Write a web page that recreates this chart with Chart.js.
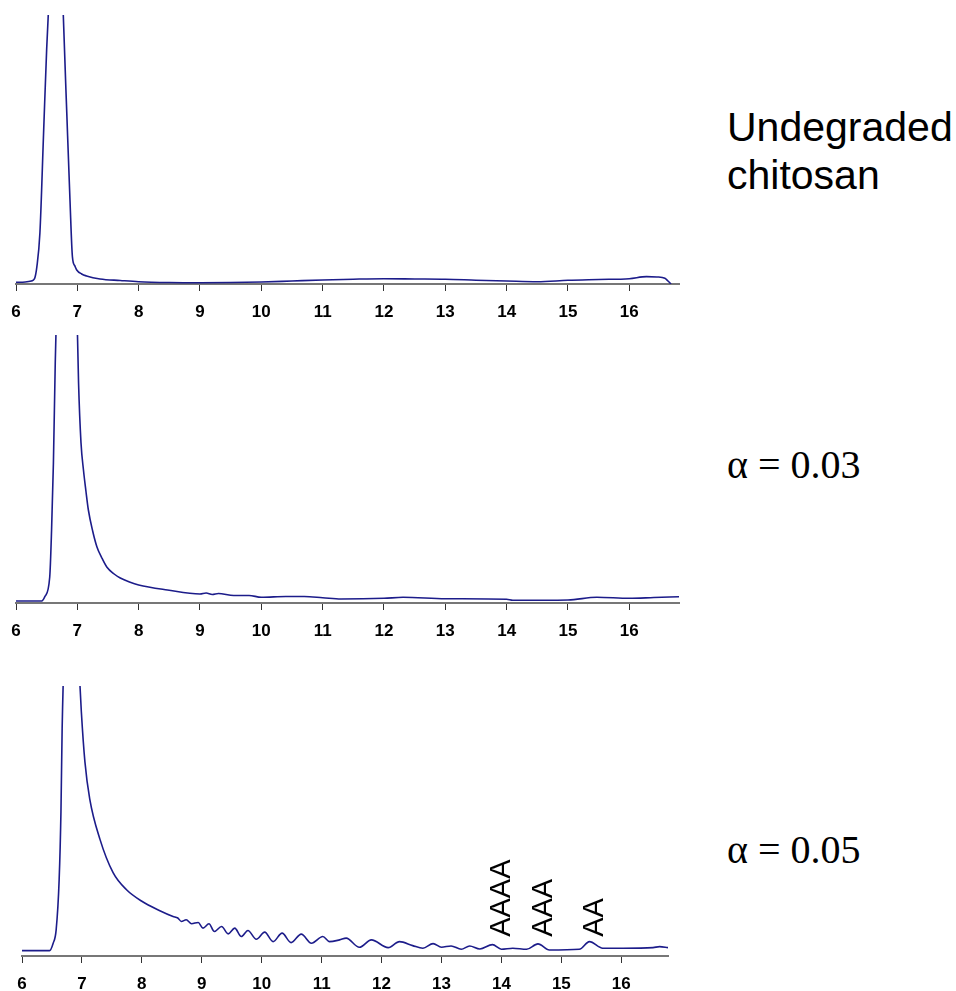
<!DOCTYPE html>
<html>
<head>
<meta charset="utf-8">
<script src="https://cdn.jsdelivr.net/npm/chart.js@4"></script>
<style>
  body { margin: 0; background: #fff; width: 956px; height: 991px; overflow: hidden; position: relative; }
  canvas { position: absolute; left: 0; }
  .side { position: absolute; left: 727px; color: #000; white-space: nowrap; }
  .sans { font-family: "Liberation Sans", Arial, sans-serif; font-size: 41px; line-height: 48px; }
  .serif { font-family: "Liberation Serif", "Times New Roman", serif; font-size: 40px; }
</style>
</head>
<body>
<canvas id="chart_undeg" style="top:0px"></canvas>
<canvas id="chart_a003" style="top:320px"></canvas>
<canvas id="chart_a005" style="top:671px"></canvas>

<div class="side sans" style="top:103px">Undegraded<br>chitosan</div>
<div class="side serif" style="top:441px">α = 0.03</div>
<div class="side serif" style="top:826px">α = 0.05</div>

<script>
// elution time (min) / detector response (arb. units)

// undegraded chitosan
let time_undeg = [6.0, 6.15, 6.25, 6.3, 6.34, 6.39, 6.45, 6.5, 6.55, 6.6, 6.66, 6.72, 6.77, 6.83, 6.88, 6.92, 6.96, 6.99, 7.07, 7.15, 7.37, 7.7, 8.0, 8.5, 9.0, 9.5, 10.0, 10.5, 11.0, 11.5, 12.0, 12.5, 13.0, 13.5, 14.0, 14.5, 15.0, 15.5, 16.0, 16.28, 16.45, 16.58, 16.63, 16.68]
let resp_undeg = [1.7, 2, 3, 5, 17, 51, 151, 234, 300, 390, 430, 380, 270, 167, 84, 27, 18, 14, 10, 8, 5, 3.5, 2.3, 1.5, 1.3, 1.5, 2, 3, 4, 4.8, 5.3, 5, 4.7, 3.8, 3, 2.3, 3.7, 4.5, 5.3, 7.3, 7, 5.7, 3, 0]

// alpha = 0.03
let time_a003 = [6.0, 6.2, 6.42, 6.47, 6.55, 6.58, 6.61, 6.64, 6.66, 6.72, 6.82, 6.92, 6.98, 7.02, 7.06, 7.1, 7.14, 7.18, 7.25, 7.32, 7.4, 7.48, 7.6, 7.7, 7.85, 8.0, 8.47, 9.0, 9.1, 9.2, 9.3, 9.55, 9.8, 10.0, 10.4, 10.7, 11.0, 11.3, 12.0, 12.31, 13.0, 14.0, 14.1, 15.0, 15.47, 16.0, 16.4, 16.81]
let resp_a003 = [2, 2, 2, 6.3, 26, 73, 140, 240, 290, 420, 520, 440, 330, 220, 160, 133, 112, 93, 72, 56, 45, 36, 29, 25, 21, 18, 13, 9, 10, 8.5, 9.5, 7.5, 7.5, 5.7, 6.5, 6.5, 5.3, 4, 4.7, 5.7, 4.3, 3.7, 2.7, 3, 5.7, 4.7, 5.5, 6.3]

// alpha = 0.05
let time_a005 = [6.0, 6.3, 6.46, 6.52, 6.57, 6.62, 6.65, 6.67, 6.72, 6.8, 6.88, 6.94, 6.99, 7.05, 7.13, 7.3, 7.52, 7.74, 8.0, 8.3, 8.52, 8.6, 8.66, 8.74, 8.83, 8.94, 9.02, 9.12, 9.21, 9.33, 9.44, 9.55, 9.66, 9.77, 9.91, 10.05, 10.19, 10.34, 10.49, 10.66, 10.83, 11.02, 11.13, 11.3, 11.41, 11.63, 11.83, 12.11, 12.3, 12.52, 12.69, 12.86, 13.0, 13.16, 13.33, 13.47, 13.64, 13.85, 14.0, 14.19, 14.42, 14.61, 14.8, 15.3, 15.47, 15.69, 16.03, 16.53, 16.64, 16.78]
let resp_a005 = [5.3, 5.3, 5.3, 12.7, 26, 76, 143, 226, 330, 420, 380, 300, 242.7, 192.7, 156, 116, 82.7, 66, 54.3, 45, 39.3, 37.7, 34.3, 36, 32, 33.3, 27.7, 32, 24.3, 29.3, 22, 27.7, 19.3, 25.3, 16.7, 23.7, 14.3, 22.7, 13.3, 21.7, 12.7, 19.3, 14.3, 16, 17.7, 8.7, 16, 8.3, 14.3, 10.3, 7.7, 12.3, 8.7, 10, 6.7, 10, 7, 11.3, 6.7, 7.7, 6.7, 12, 6, 6.7, 14.3, 7.7, 7.7, 8.3, 9.3, 8.3]

// oligomer peak labels on the alpha = 0.05 trace
let oligo_labels = ['AAAA', 'AAA', 'AA']
let oligo_time = [13.99, 14.69, 15.54]
let oligo_resp = [19, 19, 19]

let tick_values = [6, 7, 8, 9, 10, 11, 12, 13, 14, 15, 16]

let oligoPlugin = {
  id: 'oligo',
  afterDatasetsDraw(chart) {
    let ctx = chart.ctx, xs = chart.scales.x, ys = chart.scales.y;
    ctx.save();
    ctx.fillStyle = '#000';
    ctx.font = '29px "Liberation Sans", Arial, sans-serif';
    ctx.textAlign = 'left';
    ctx.textBaseline = 'middle';
    for (let i = 0; i < oligo_labels.length; i++) {
      ctx.save();
      ctx.translate(xs.getPixelForValue(oligo_time[i]), ys.getPixelForValue(oligo_resp[i]));
      ctx.rotate(-Math.PI / 2);
      ctx.fillText(oligo_labels[i], 0, 1);
      ctx.restore();
    }
    ctx.restore();
  }
}

function makeChart(id, w, h, pad, xmax, xs, ys, plugins) {
  let el = document.getElementById(id);
  el.width = w; el.height = h;
  el.style.width = w + 'px'; el.style.height = h + 'px';
  return new Chart(el.getContext('2d'), {
    type: 'line',
    data: {
      datasets: [{
        data: xs.map((x, i) => ({ x: x, y: ys[i] })),
        borderColor: '#1c1c8a',
        borderWidth: 1.6,
        pointRadius: 0,
        cubicInterpolationMode: 'monotone',
        fill: false
      }]
    },
    options: {
      responsive: false,
      animation: false,
      events: [],
      layout: { padding: pad },
      plugins: { legend: { display: false }, tooltip: { enabled: false } },
      scales: {
        x: {
          type: 'linear',
          min: 6,
          max: xmax,
          afterBuildTicks: s => { s.ticks = tick_values.map(v => ({ value: v })) },
          afterFit: s => { s.height = 35 },
          grid: { drawOnChartArea: false, drawTicks: true, tickLength: 7, color: '#333', lineWidth: 1 },
          border: { display: true, color: '#777', width: 2 },
          ticks: {
            color: '#000',
            padding: 11,
            maxRotation: 0,
            font: { family: '"Liberation Sans", Arial, sans-serif', size: 17, weight: 'bold' }
          }
        },
        y: { display: false, min: 0, max: 268 }
      }
    },
    plugins: plugins || []
  });
}

makeChart('chart_undeg', 700, 319, { left: 16, right: 21, top: 15, bottom: 0 }, 16.81, time_undeg, resp_undeg)
makeChart('chart_a003', 700, 318, { left: 16, right: 21, top: 15, bottom: 0 }, 16.81, time_a003, resp_a003)
makeChart('chart_a005', 700, 320, { left: 22, right: 32, top: 15, bottom: 0 }, 16.78, time_a005, resp_a005, [oligoPlugin])
</script>
</body>
</html>
